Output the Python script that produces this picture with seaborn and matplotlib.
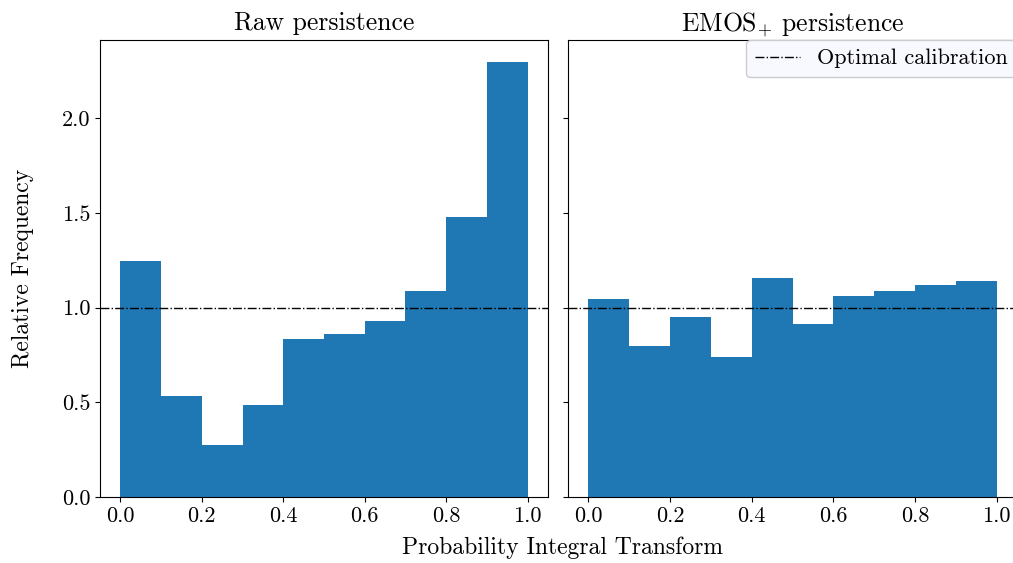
import numpy as np
import pandas as pd
import matplotlib
matplotlib.use("Agg")
import matplotlib.pyplot as plt
import seaborn as sns

# Data
bin_edges = [0.0, 0.1, 0.2, 0.3, 0.4, 0.5, 0.6, 0.7, 0.8, 0.9, 1.0]
raw_freq = [1.245, 0.531, 0.273, 0.485, 0.836, 0.859, 0.931, 1.086, 1.480, 2.298]
emos_freq = [1.045, 0.797, 0.951, 0.740, 1.155, 0.913, 1.060, 1.088, 1.120, 1.143]
titles = ["Raw persistence", r"$\mathrm{EMOS}_{+}$ persistence"]
y_ticks = [0.0, 0.5, 1.0, 1.5, 2.0]
x_ticks = [0.0, 0.2, 0.4, 0.6, 0.8, 1.0]

plt.rcParams["font.family"] = "serif"
plt.rcParams["font.serif"] = ["cmr10", "DejaVu Serif"]
plt.rcParams["mathtext.fontset"] = "cm"
plt.rcParams["axes.formatter.use_mathtext"] = True
plt.rcParams["axes.unicode_minus"] = False

W, H = 1013, 563
fig = plt.figure(figsize=(W / 100, H / 100), dpi=100)
ax1 = fig.add_axes([100 / W, (H - 497) / H, 448 / W, 457 / H])
ax2 = fig.add_axes([568 / W, (H - 497) / H, 449 / W, 457 / H], sharey=ax1)

centers = [(bin_edges[i] + bin_edges[i + 1]) / 2 for i in range(len(bin_edges) - 1)]
for ax, freq, title in zip([ax1, ax2], [raw_freq, emos_freq], titles):
    df = pd.DataFrame({"pit": centers, "freq": freq})
    sns.histplot(data=df, x="pit", weights="freq", bins=bin_edges, stat="count",
                 color="#1f77b4", alpha=1.0, linewidth=0, ax=ax)
    ax.axhline(1.0, color="black", linestyle="-.", linewidth=1.0,
               label="Optimal calibration")
    ax.set_title(title, fontsize=18.5, pad=7)
    ax.set_xlabel("")
    ax.set_ylabel("")
    ax.set_xticks(x_ticks)
    ax.set_xticklabels([f"{t:.1f}" for t in x_ticks])
    ax.tick_params(labelsize=16)
    ax.set_xlim(-0.05, 1.05)

ax1.set_yticks(y_ticks)
ax1.set_yticklabels([f"{t:.1f}" for t in y_ticks])
ax1.set_ylim(0, 2.298 * 1.05)
ax1.set_ylabel("Relative Frequency", fontsize=17, labelpad=20)
ax2.tick_params(labelleft=False)

leg = ax2.legend(loc="upper right", fontsize=16, facecolor="#f8f8ff",
                 edgecolor="#cccccc", framealpha=1.0, borderaxespad=0.0)

fig.text(562 / W, 1 - 548 / H, "Probability Integral Transform",
         ha="center", va="center", fontsize=17)

fig.savefig("out.png", dpi=100)
